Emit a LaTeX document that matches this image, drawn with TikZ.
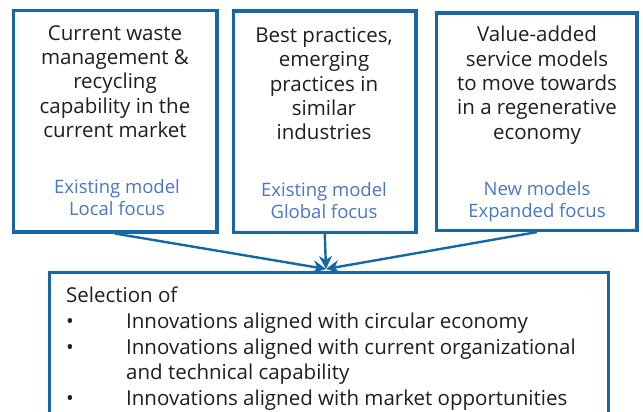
\documentclass[tikz,border=0pt]{standalone}
\usepackage{fontspec}
\setmainfont{Open Sans}
\usetikzlibrary{arrows.meta}
\definecolor{boxblue}{RGB}{22,103,163}
\definecolor{lblue}{RGB}{72,118,200}
\definecolor{txt}{RGB}{30,30,30}
\tikzset{
  box/.style={draw=boxblue, line width=3.2pt, rectangle, inner sep=0pt},
  main/.style={align=center, inner sep=0pt, text=txt, font=\fontsize{20.5}{24.4}\selectfont},
  sel/.style={align=left, inner sep=0pt, text=txt, font=\fontsize{20.5}{25.7}\selectfont},
  lab/.style={align=center, inner sep=0pt, text=lblue, font=\fontsize{18.5}{22.5}\selectfont},
  conn/.style={draw=boxblue, line width=2.4pt, -{Stealth[length=13pt,width=13pt]}}
}
\begin{document}
\begin{tikzpicture}[x=1pt,y=-1pt]
\useasboundingbox (0,0) rectangle (643,412);
\clip (0,0) rectangle (643,412);
\node[box, minimum width=203.5, minimum height=221.5] (b1) at (115.25,121.25) {};
\node[box, minimum width=182.5, minimum height=221.5] (b2) at (324.75,121.75) {};
\node[box, minimum width=200.5, minimum height=217.5] (b3) at (536.75,121.75) {};
\node[box, minimum width=559.5, minimum height=160, anchor=north west] (b4) at (47.5,271) {};
\node[main, anchor=north] (t1) at (115,25) {Current waste\\management \&\\recycling\\capability in the\\current market};
\node[main, anchor=north] (t2) at (324,27) {Best practices,\\emerging\\practices in\\similar\\industries};
\node[main, anchor=north] (t3) at (537,26) {Value-added\\service models\\to move towards\\in a regenerative\\economy};
\node[lab, anchor=north] (l1) at (117,179) {Existing model\\Local focus};
\node[lab, anchor=north] (l2) at (324,182) {Existing model\\Global focus};
\node[lab, anchor=north] (l3) at (537,181) {New models\\Expanded focus};
\node[sel, anchor=north west] (sel) at (66,287) {Selection of\\
\makebox[60pt][l]{•}Innovations aligned with circular economy\\
\makebox[60pt][l]{•}Innovations aligned with current organizational\\
\hspace*{60pt}and technical capability\\
\makebox[60pt][l]{•}Innovations aligned with market opportunities};
\coordinate (tgt) at (326,269);
\draw[conn] (b1.south) -- (tgt);
\draw[conn] (b2.south) -- (tgt);
\draw[conn] (b3.south) -- (tgt);
\end{tikzpicture}
\end{document}
